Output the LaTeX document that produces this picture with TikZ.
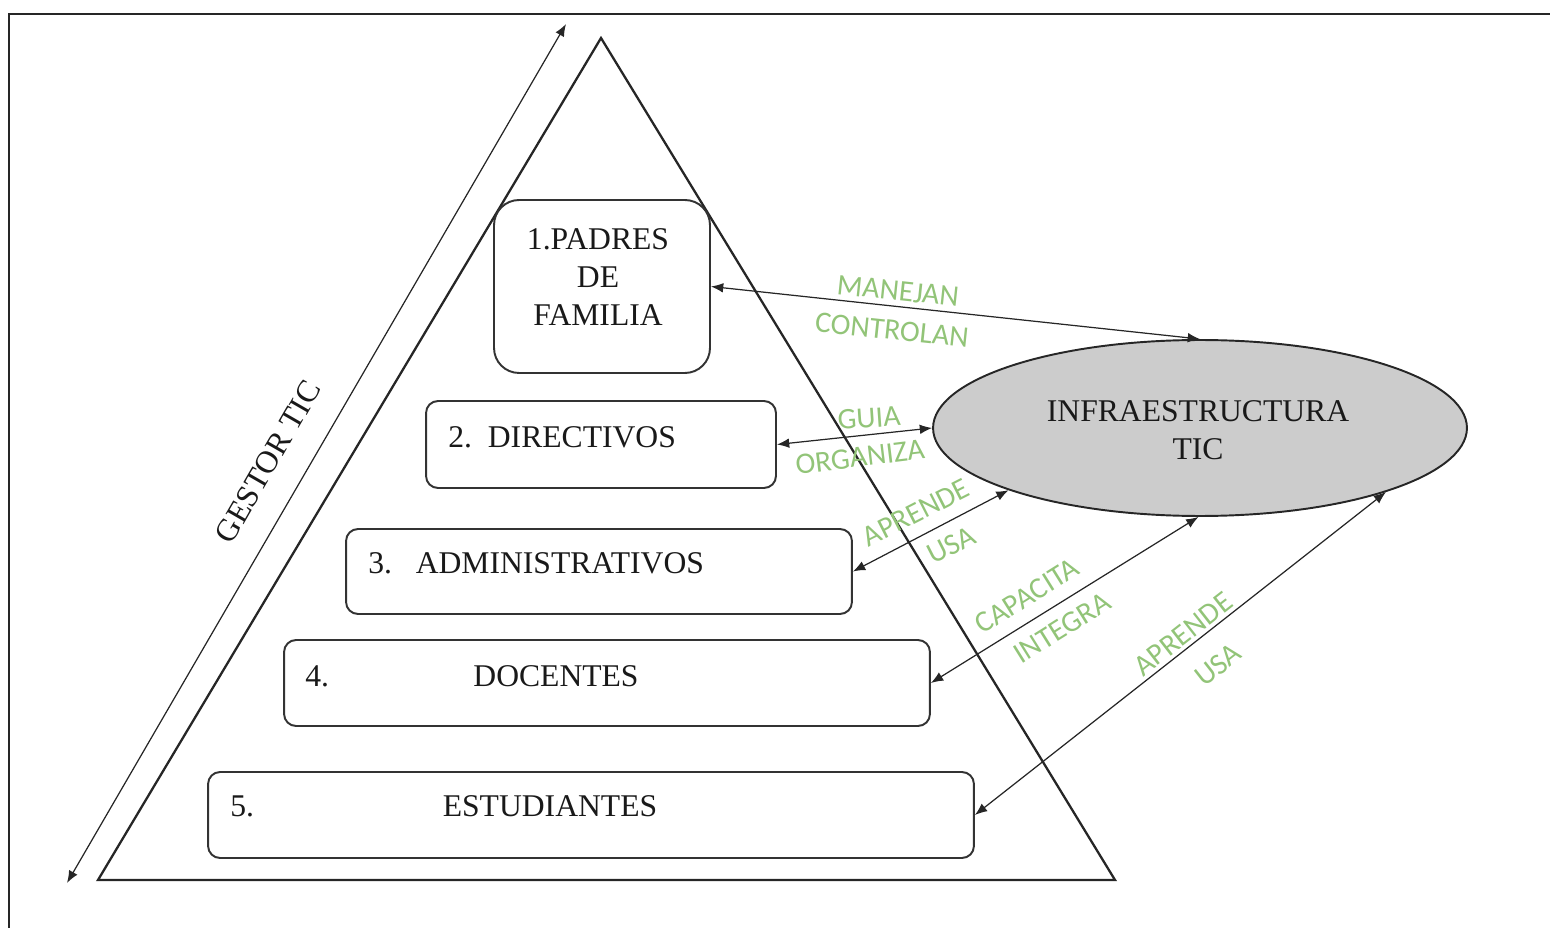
\documentclass[tikz,border=0pt]{standalone}
\usepackage{fontspec}
\setmainfont{Liberation Serif}
\newfontfamily\lblfont{Carlito}
\usetikzlibrary{shapes.geometric,arrows.meta}
\definecolor{lblgreen}{RGB}{146,196,120}
\definecolor{ellfill}{RGB}{204,204,204}
\begin{document}
\begin{tikzpicture}[x=0.02cm,y=-0.02cm,
  frame/.style={line width=1.1pt,black!85},
  levelbox/.style={draw=black!80,line width=1.1pt,rounded corners=0.24cm,inner sep=0pt},
  boxtext/.style={font=\fontsize{18}{21.5}\selectfont,inner sep=0pt,text=black!90},
  link/.style={line width=0.7pt,black!85,{Latex[length=7pt,width=5.5pt]}-{Latex[length=7pt,width=5.5pt]}},
  verb/.style={font=\lblfont\fontsize{17}{19}\selectfont,text=lblgreen,inner sep=0pt}]
\useasboundingbox (0,0) rectangle (1550,928);
% outer frame (top and left edges)
\coordinate (fTR) at (1550,14);
\coordinate (fTL) at (9,14);
\coordinate (fBL) at (9,928);
\draw[frame] (fTR) -- (fTL) -- (fBL);
% pyramid
\coordinate (apex) at (601,38);
\coordinate (bl) at (98,880);
\coordinate (br) at (1115,880);
\draw[line width=1.3pt,black!85,line join=miter] (apex) -- (br) -- (bl) -- cycle;
% gestor arrow
\coordinate (gTop) at (566,24);
\coordinate (gBot) at (67,883);
\draw[link] (gBot) -- (gTop);
\node[boxtext,font=\fontsize{18}{20}\selectfont,rotate=60] (gestor) at (268,462) {GESTOR TIC};
% level boxes
\node[levelbox,rounded corners=0.5cm,minimum width=4.32cm,minimum height=3.46cm] (b1) at (602,286.5) {};
\node[levelbox,minimum width=7.0cm,minimum height=1.74cm] (b2) at (601,444.5) {};
\node[levelbox,minimum width=10.12cm,minimum height=1.7cm] (b3) at (599,571.5) {};
\node[levelbox,minimum width=12.92cm,minimum height=1.72cm] (b4) at (607,683) {};
\node[levelbox,minimum width=15.32cm,minimum height=1.72cm] (b5) at (591,815) {};
% box texts
\node[boxtext,align=center] (t1) at (598,277) {1.PADRES\\DE\\FAMILIA};
\node[boxtext,anchor=west] (t2) at (448,437) {2.\ \ DIRECTIVOS};
\node[boxtext,anchor=west] (t3) at (368,563) {3.\ \ \ ADMINISTRATIVOS};
\node[boxtext,anchor=west] (t4n) at (305,676) {4.};
\node[boxtext] (t4) at (556,676) {DOCENTES};
\node[boxtext,anchor=west] (t5n) at (230,806) {5.};
\node[boxtext] (t5) at (550,806) {ESTUDIANTES};
% infrastructure ellipse
\node[ellipse,draw=black!85,line width=1.1pt,fill=ellfill,minimum width=10.68cm,minimum height=3.52cm,inner sep=0pt] (infra) at (1200,428) {};
\node[boxtext,align=center] (tinfra) at (1198,430) {INFRAESTRUCTURA\\TIC};
% links
\draw[link] (b1.east) -- (infra.north);
\draw[link] (b2.east) -- (infra.west);
\draw[link] (b3.east) -- (infra.-162);
\draw[link] (b4.east) -- (infra.-91);
\draw[link] (b5.east) -- (infra.-19);
% verb labels
\node[verb,rotate=-6] (v1a) at (898,291) {MANEJAN};
\node[verb,rotate=-6] (v1b) at (892,330) {CONTROLAN};
\node[verb,rotate=4] (v2a) at (869,418) {GUIA};
\node[verb,rotate=7] (v2b) at (860,457) {ORGANIZA};
\node[verb,rotate=27] (v3a) at (916,513) {APRENDE};
\node[verb,rotate=27] (v3b) at (951,545) {USA};
\node[verb,rotate=32] (v4a) at (1027,596) {CAPACITA};
\node[verb,rotate=32] (v4b) at (1062,628) {INTEGRA};
\node[verb,rotate=38] (v5a) at (1183,634) {APRENDE};
\node[verb,rotate=38] (v5b) at (1218,665) {USA};
\end{tikzpicture}
\end{document}
